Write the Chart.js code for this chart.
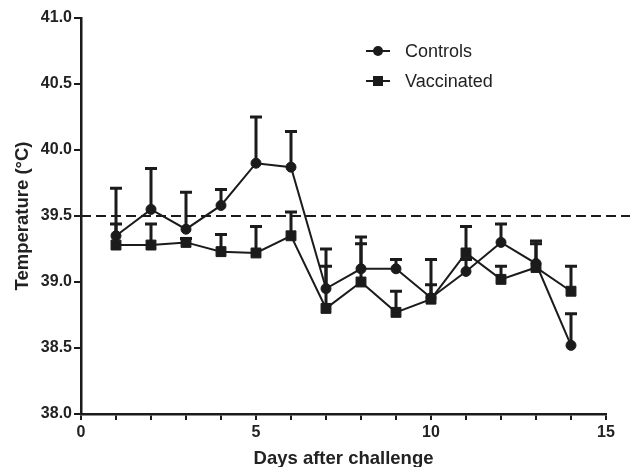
<!DOCTYPE html>
<html>
<head>
<meta charset="utf-8">
<title>Temperature after challenge</title>
<script src="https://cdn.jsdelivr.net/npm/chart.js@4/dist/chart.umd.min.js"></script>
<style>
  html, body { margin: 0; padding: 0; background: #fff; }
  #wrap { width: 630px; height: 467px; }
</style>
</head>
<body>
<div id="wrap"><canvas id="tempChart" width="630" height="467"></canvas></div>
<script>
// --- DATA ---
const days = [1, 2, 3, 4, 5, 6, 7, 8, 9, 10, 11, 12, 13, 14];
const controls = [39.35, 39.55, 39.40, 39.58, 39.90, 39.87, 38.95, 39.10, 39.10, 38.88, 39.08, 39.30, 39.14, 38.52];
const controlsSem = [0.36, 0.31, 0.28, 0.12, 0.35, 0.27, 0.30, 0.24, 0.07, 0.29, 0.09, 0.14, 0.17, 0.24];
const vaccinated = [39.28, 39.28, 39.30, 39.23, 39.22, 39.35, 38.80, 39.00, 38.77, 38.87, 39.22, 39.02, 39.11, 38.93];
const vaccinatedSem = [0.16, 0.16, 0.03, 0.13, 0.20, 0.18, 0.32, 0.29, 0.16, 0.11, 0.20, 0.10, 0.18, 0.19];
const threshold = 39.5;
const seriesNames = ['Controls', 'Vaccinated'];
const xTitle = 'Days after challenge';
const yTitle = 'Temperature (°C)';

const INK = '#1b1b1b';
const FONT = 'Arial, "Liberation Sans", Helvetica, sans-serif';

// upper-only error bars, drawn under the markers
const errorBars = {
    id: 'errorBars',
    beforeDatasetsDraw(chart) {
        const { ctx, scales: { x, y } } = chart;
        ctx.save();
        ctx.strokeStyle = INK;
        ctx.lineWidth = 3;
        chart.data.datasets.forEach(ds => {
            ds.sem.forEach((s, i) => {
                const px = x.getPixelForValue(ds.data[i].x);
                const py = y.getPixelForValue(ds.data[i].y);
                const top = y.getPixelForValue(ds.data[i].y + s);
                ctx.beginPath();
                ctx.moveTo(px, py);
                ctx.lineTo(px, top);
                ctx.moveTo(px - 6, top);
                ctx.lineTo(px + 6, top);
                ctx.stroke();
            });
        });
        ctx.restore();
    }
};

// dashed reference line, runs past the axis to the right edge
const refLine = {
    id: 'refLine',
    beforeDatasetsDraw(chart) {
        const { ctx, chartArea, scales: { y } } = chart;
        const py = y.getPixelForValue(threshold);
        ctx.save();
        ctx.strokeStyle = INK;
        ctx.lineWidth = 2;
        ctx.setLineDash([10, 5]);
        ctx.beginPath();
        ctx.moveTo(chartArea.left, py);
        ctx.lineTo(chart.width, py);
        ctx.stroke();
        ctx.restore();
    }
};

// legend: line + marker + label
const legendBox = {
    id: 'legendBox',
    afterDraw(chart) {
        const { ctx } = chart;
        const rows = [51, 81];
        ctx.save();
        chart.data.datasets.forEach((ds, i) => {
            const yy = rows[i];
            ctx.strokeStyle = INK;
            ctx.lineWidth = 2;
            ctx.beginPath();
            ctx.moveTo(366, yy);
            ctx.lineTo(390, yy);
            ctx.stroke();
            ctx.fillStyle = INK;
            if (ds.pointStyle === 'rect') {
                ctx.fillRect(373, yy - 5, 10, 10);
            } else {
                ctx.beginPath();
                ctx.arc(378, yy, 5, 0, Math.PI * 2);
                ctx.fill();
            }
            ctx.font = '18px ' + FONT;
            ctx.textBaseline = 'middle';
            ctx.fillStyle = '#222';
            ctx.fillText(ds.label, 405, yy + 1);
        });
        ctx.restore();
    }
};

function toPoints(vals) {
    return days.map((d, i) => ({ x: d, y: vals[i] }));
}

new Chart(document.getElementById('tempChart'), {
    type: 'line',
    data: {
        datasets: [{
            label: seriesNames[0],
            data: toPoints(controls),
            sem: controlsSem,
            borderColor: INK,
            backgroundColor: INK,
            borderWidth: 2,
            pointStyle: 'circle',
            pointRadius: 5,
            pointBorderWidth: 1,
            tension: 0
        }, {
            label: seriesNames[1],
            data: toPoints(vaccinated),
            sem: vaccinatedSem,
            borderColor: INK,
            backgroundColor: INK,
            borderWidth: 2,
            pointStyle: 'rect',
            pointRadius: 7,
            pointBorderWidth: 1,
            tension: 0
        }]
    },
    options: {
        responsive: false,
        animation: false,
        layout: { padding: { top: 18, right: 24, left: 0, bottom: 0 } },
        plugins: {
            legend: { display: false },
            tooltip: { enabled: false }
        },
        scales: {
            x: {
                type: 'linear',
                min: 0,
                max: 15,
                afterFit(scale) { scale.height = 53; },
                border: { color: INK, width: 2.5 },
                grid: { drawOnChartArea: false, drawTicks: true, tickLength: 6, color: INK, lineWidth: 2 },
                ticks: {
                    stepSize: 1,
                    padding: 3,
                    maxRotation: 0,
                    autoSkip: false,
                    color: '#222',
                    font: { family: FONT, size: 16, weight: 'bold' },
                    callback: v => (v % 5 === 0 ? String(v) : '')
                },
                title: {
                    display: true,
                    text: xTitle,
                    color: '#222',
                    padding: { top: 0, bottom: -3 },
                    font: { family: FONT, size: 18.5, weight: 'bold' }
                }
            },
            y: {
                min: 38,
                max: 41,
                afterFit(scale) { scale.width = 81; },
                border: { color: INK, width: 2.5 },
                grid: { drawOnChartArea: false, drawTicks: true, tickLength: 7, color: INK, lineWidth: 2 },
                ticks: {
                    stepSize: 0.5,
                    padding: 2,
                    color: '#222',
                    font: { family: FONT, size: 16, weight: 'bold' },
                    callback: v => v.toFixed(1)
                },
                title: {
                    display: true,
                    text: yTitle,
                    color: '#222',
                    padding: { top: 12, bottom: 0 },
                    font: { family: FONT, size: 18.5, weight: 'bold' }
                }
            }
        }
    },
    plugins: [refLine, errorBars, legendBox]
});
</script>
</body>
</html>
